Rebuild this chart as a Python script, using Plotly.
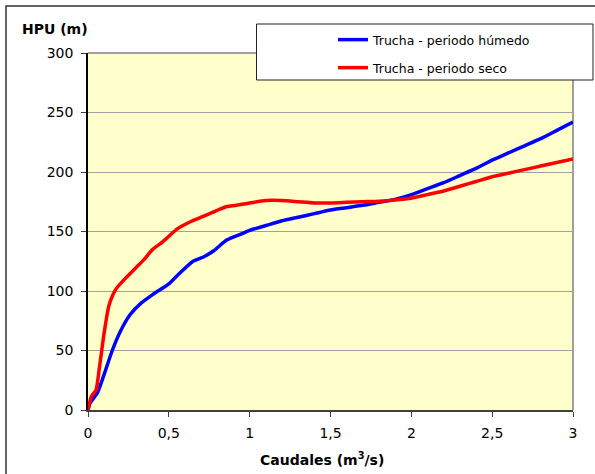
import plotly.graph_objects as go

# Data
x_humedo = [0, 0.01, 0.03, 0.06, 0.1, 0.15, 0.2, 0.26, 0.33, 0.4, 0.5, 0.56, 0.65, 0.72, 0.78, 0.86, 0.95, 1.0, 1.1, 1.2, 1.3, 1.4, 1.5, 1.6, 1.7, 1.8, 1.9, 2.0, 2.1, 2.2, 2.3, 2.4, 2.5, 2.6, 2.7, 2.8, 2.9, 3.0]
y_humedo = [0, 5, 9, 15, 30, 50, 66, 80, 90, 97, 106, 114, 125, 129, 134, 143, 148, 151, 155, 159, 162, 165, 168, 170, 172, 174.5, 177, 181, 186, 191, 197, 203, 210, 216, 222, 228, 235, 242]

x_seco = [0, 0.02, 0.05, 0.07, 0.1, 0.13, 0.17, 0.22, 0.3, 0.35, 0.4, 0.45, 0.5, 0.55, 0.63, 0.7, 0.77, 0.82, 0.86, 0.92, 1.0, 1.1, 1.2, 1.3, 1.4, 1.5, 1.6, 1.7, 1.8, 1.9, 2.0, 2.1, 2.2, 2.3, 2.4, 2.5, 2.6, 2.7, 2.8, 2.9, 3.0]
y_seco = [0, 11, 17, 35, 65, 88, 101, 109, 120, 127, 135, 140, 146, 152, 158, 162, 166, 169, 171, 172, 174, 176, 176, 175, 174, 174, 174.5, 175, 175.5, 176.5, 178, 181, 184, 188, 192, 196, 199, 202, 205, 208, 211]

x_tickvals = [0, 0.5, 1, 1.5, 2, 2.5, 3]
x_ticktext = ["0", "0,5", "1", "1,5", "2", "2,5", "3"]
y_tickvals = [0, 50, 100, 150, 200, 250, 300]

series_names = ["Trucha - periodo húmedo", "Trucha - periodo seco"]

W, H = 595, 474
L, R, T, B = 88, 22, 53, 64
PW, PH = W - L - R, H - T - B


def px(xp):
    return (xp - L) / PW


def py(yp):
    return (H - B - yp) / PH


FONT = "DejaVu Sans"

fig = go.Figure()
fig.add_trace(go.Scatter(x=x_humedo, y=y_humedo, mode="lines", name=series_names[0],
                         line=dict(color="#0000FF", width=3.5, shape="spline", smoothing=0.6),
                         legend="legend"))
fig.add_trace(go.Scatter(x=x_seco, y=y_seco, mode="lines", name=series_names[1],
                         line=dict(color="#FF0000", width=3.5, shape="spline", smoothing=0.6),
                         legend="legend2"))

shapes = [
    # outer chart border
    dict(type="rect", xref="paper", yref="paper", x0=px(6), x1=px(640), y0=py(520), y1=py(6),
         line=dict(color="#333333", width=1.5), fillcolor="rgba(0,0,0,0)", layer="below"),
    # plot area top and right borders
    dict(type="line", xref="paper", yref="paper", x0=0, x1=1, y0=1, y1=1,
         line=dict(color="#A0A0A0", width=2), layer="below"),
    dict(type="line", xref="paper", yref="paper", x0=1, x1=1, y0=0, y1=1,
         line=dict(color="#A0A0A0", width=2), layer="below"),
    # legend box
    dict(type="rect", xref="paper", yref="paper", x0=px(256.5), x1=px(593), y0=py(80), y1=py(24),
         line=dict(color="#222222", width=1), fillcolor="white", layer="above"),
]

annotations = [
    dict(text="<b>HPU (m)</b>", xref="paper", yref="paper", x=px(20), y=py(29),
         xanchor="left", yanchor="middle", showarrow=False,
         font=dict(family=FONT, size=14, color="black")),
    dict(text="<b>Caudales (m<sup>3</sup>/s)</b>", xref="paper", yref="paper", x=px(322), y=py(459),
         xanchor="center", yanchor="middle", showarrow=False,
         font=dict(family=FONT, size=14, color="black")),
]

legend_common = dict(bgcolor="rgba(0,0,0,0)", borderwidth=0, xanchor="left", yanchor="middle",
                     font=dict(family=FONT, size=12.5, color="black"))

fig.update_layout(
    width=W, height=H,
    margin=dict(l=L, r=R, t=T, b=B, pad=0),
    paper_bgcolor="white",
    plot_bgcolor="#FFFFCC",
    font=dict(family=FONT, size=14, color="black"),
    showlegend=True,
    legend=dict(x=px(333), y=py(40), **legend_common),
    legend2=dict(x=px(333), y=py(68), **legend_common),
    shapes=shapes,
    annotations=annotations,
    xaxis=dict(range=[0, 3], tickvals=x_tickvals, ticktext=x_ticktext,
               showgrid=False, zeroline=False, showline=True, linecolor="#404040", linewidth=2,
               ticks="outside", ticklen=5, tickcolor="#404040", tickwidth=1,
               ticklabelstandoff=4,
               tickfont=dict(family=FONT, size=14, color="black")),
    yaxis=dict(range=[0, 300], tickvals=y_tickvals,
               showgrid=True, gridcolor="#A0A0A0", gridwidth=1, zeroline=False,
               showline=True, linecolor="black", linewidth=1.5,
               ticks="outside", ticklen=5, tickcolor="#404040", tickwidth=1,
               ticklabelstandoff=5,
               tickfont=dict(family=FONT, size=14, color="black")),
)

fig.write_html("out.html", config={"displayModeBar": False},
               post_script="document.body.style.margin='0';document.body.style.padding='0';")
